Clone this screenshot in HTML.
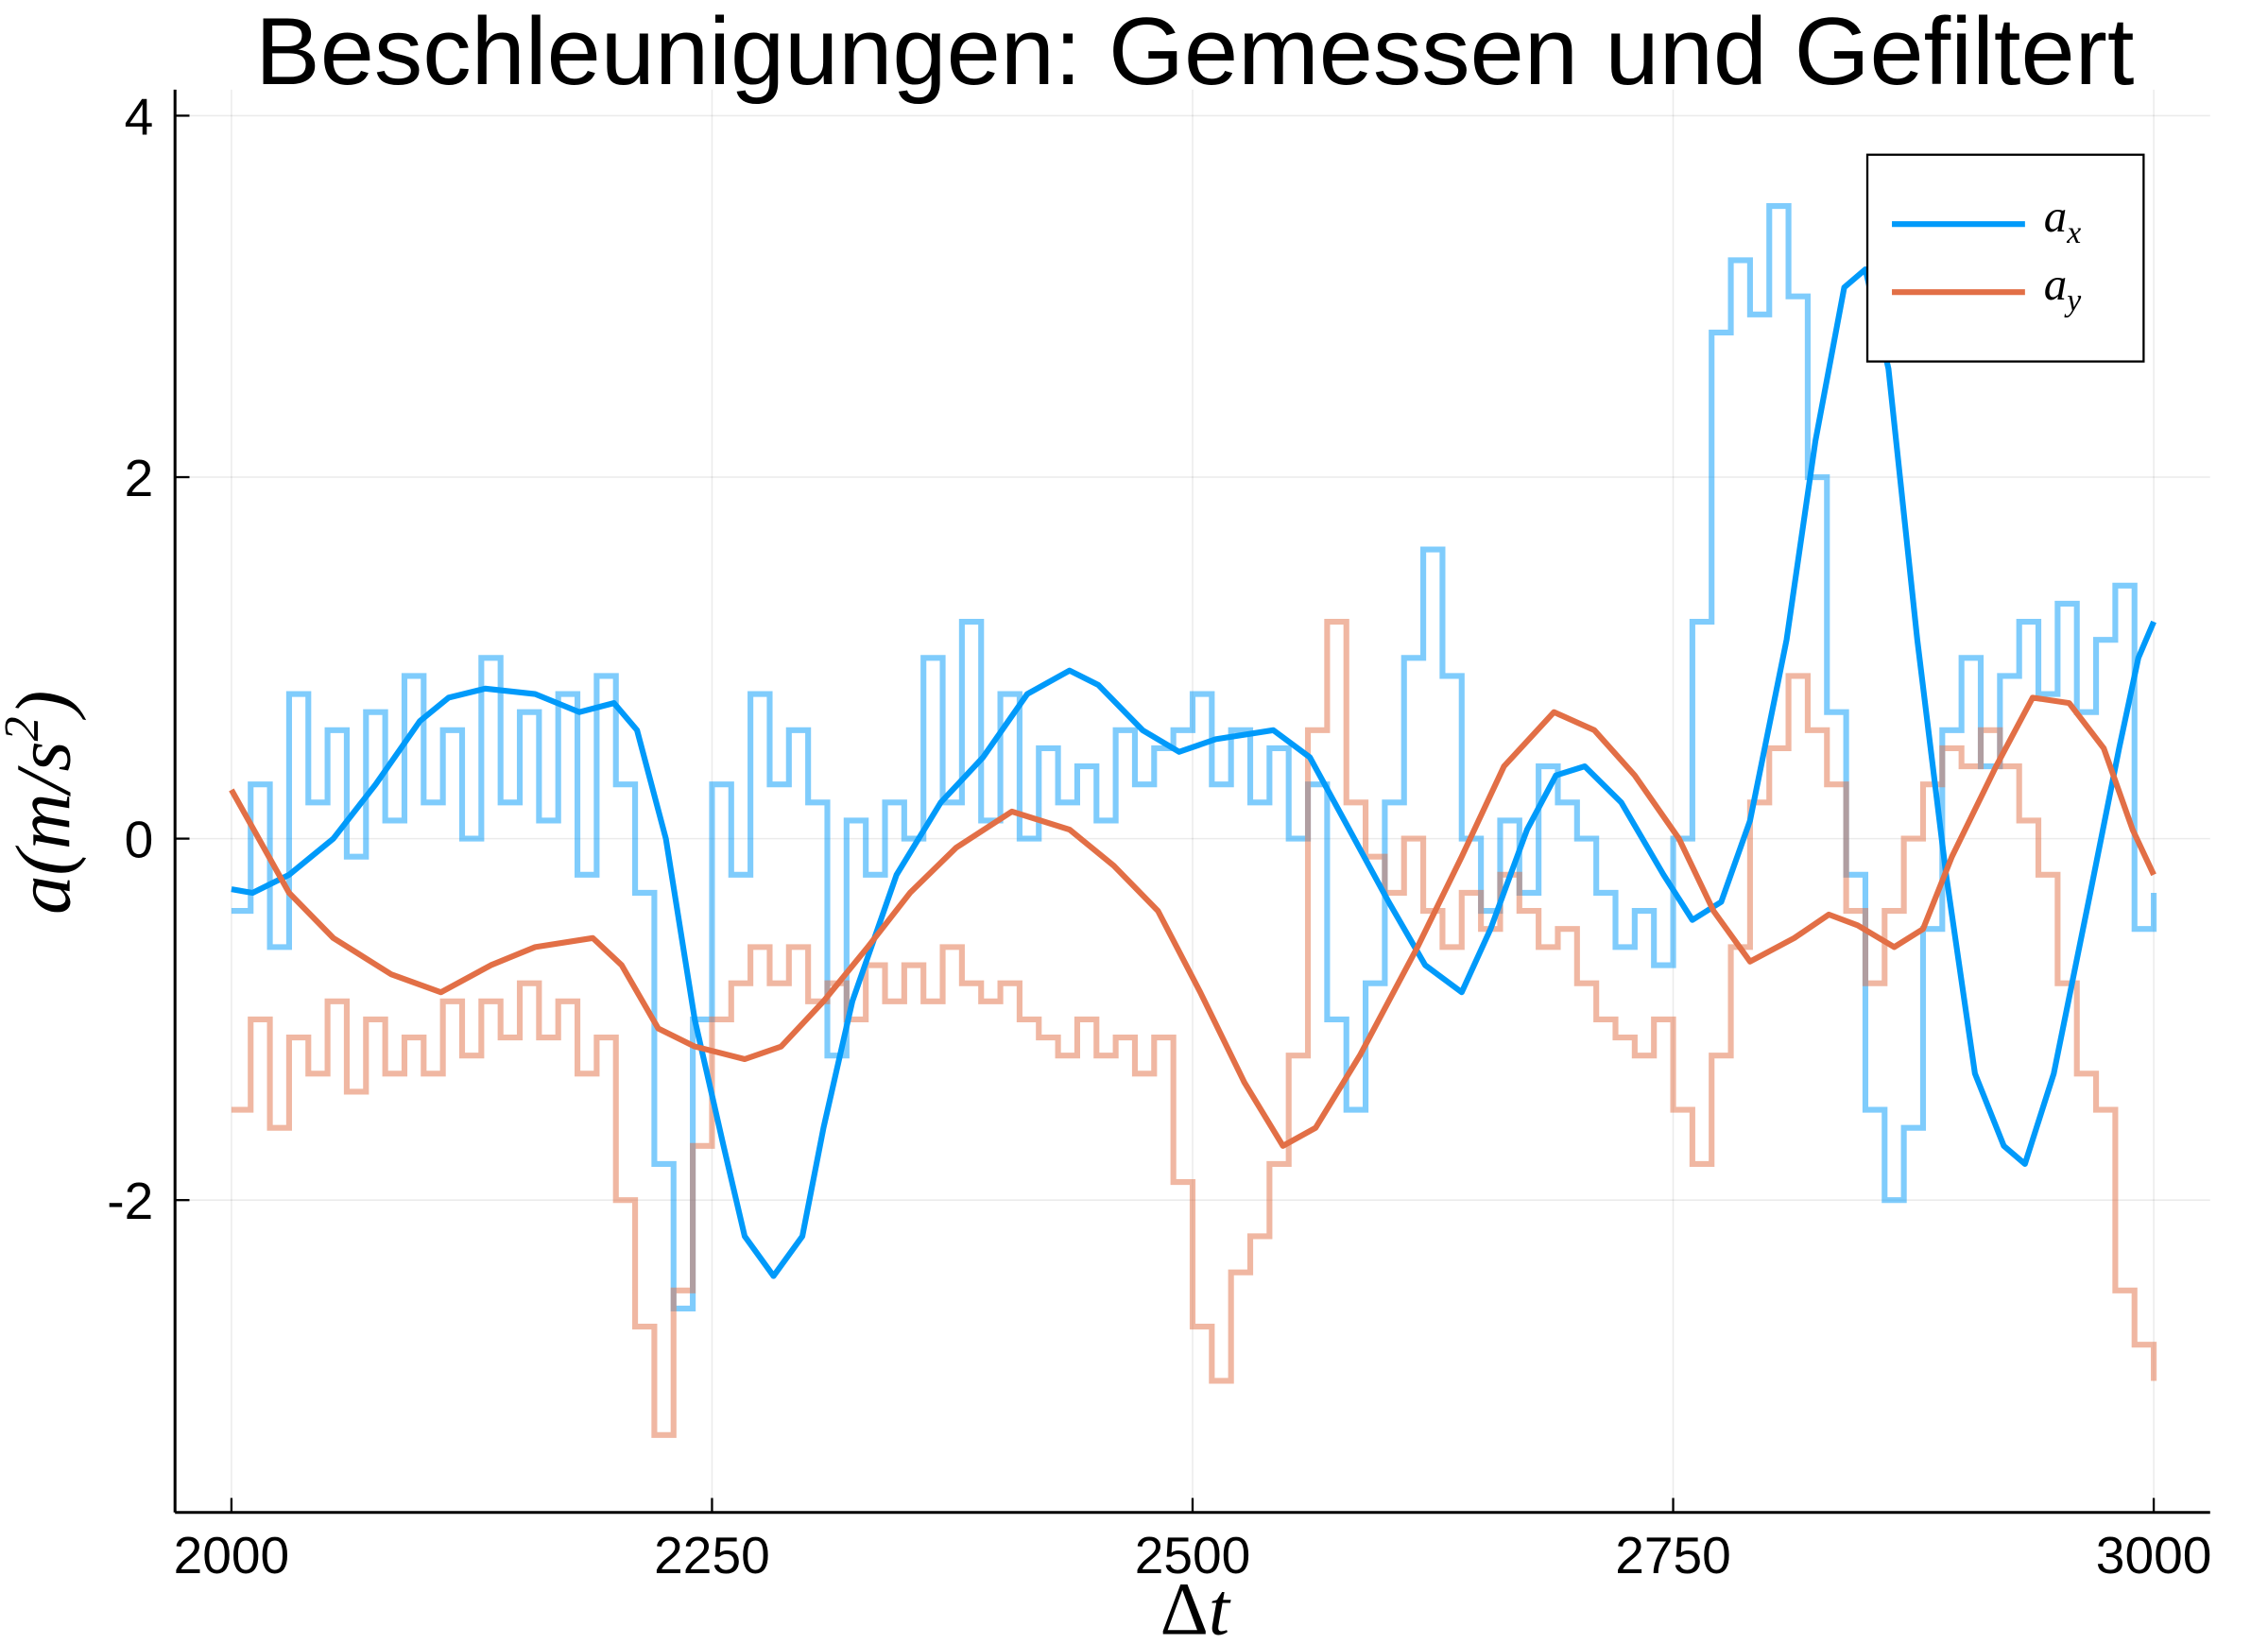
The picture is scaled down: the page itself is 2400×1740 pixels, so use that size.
<!DOCTYPE html>
<html><head><meta charset="utf-8"><style>
html,body{margin:0;padding:0;background:#fff;}
svg{display:block;}
text{font-family:"Liberation Sans",sans-serif;}
.m{font-family:"Liberation Serif",serif;font-style:italic;}
</style></head><body>
<svg id="chart" width="2400" height="1740" viewBox="0 0 1568 1137" preserveAspectRatio="none" xmlns="http://www.w3.org/2000/svg">
<rect x="0" y="0" width="1568" height="1137" fill="#fff"/>
<g id="grid"></g>
<g id="series"></g>
<line x1="121" y1="62" x2="121" y2="1046" stroke="#000" stroke-width="2"/>
<line x1="121" y1="1046" x2="1528" y2="1046" stroke="#000" stroke-width="2"/>
<g id="ticks"></g>
<text x="826" y="58" font-size="66" text-anchor="middle" textLength="1299" lengthAdjust="spacingAndGlyphs">Beschleunigungen: Gemessen und Gefiltert</text>
<text class="m" x="826" y="1130" font-size="52" text-anchor="middle"><tspan font-style="normal">Δ</tspan>t</text>
<text class="m" transform="translate(48,555) rotate(-90)" font-size="54" text-anchor="middle">a(m/s<tspan font-size="34" dy="-22">2</tspan><tspan dy="22">)</tspan></text>
<g>
<rect x="1291" y="107" width="191" height="143" fill="#fff" stroke="#000" stroke-width="1.5"/>
<line x1="1308" y1="155" x2="1400" y2="155" stroke="#009AFA" stroke-width="4"/>
<text class="m" x="1413" y="160" font-size="32">a<tspan font-size="22" dy="8">x</tspan></text>
<line x1="1308" y1="202" x2="1400" y2="202" stroke="#E26F46" stroke-width="4"/>
<text class="m" x="1413" y="207" font-size="32">a<tspan font-size="22" dy="8">y</tspan></text>
</g>
</svg>
<script>
const rawT = Array.from({length:101},(_,i)=>2000+i*10);
const rawAx = [-0.4,0.3,-0.6,0.8,0.2,0.6,-0.1,0.7,0.1,0.9,0.2,0.6,0.0,1.0,0.2,0.7,0.1,0.8,-0.2,0.9,0.3,-0.3,-1.8,-2.6,-1.0,0.3,-0.2,0.8,0.3,0.6,0.2,-1.2,0.1,-0.2,0.2,0.0,1.0,0.2,1.2,0.1,0.8,0.0,0.5,0.2,0.4,0.1,0.6,0.3,0.5,0.6,0.8,0.3,0.6,0.2,0.5,0.0,0.3,-1.0,-1.5,-0.8,0.2,1.0,1.6,0.9,0.0,-0.4,0.1,-0.3,0.4,0.2,0.0,-0.3,-0.6,-0.4,-0.7,0.0,1.2,2.8,3.2,2.9,3.5,3.0,2.0,0.7,-0.2,-1.5,-2.0,-1.6,-0.5,0.6,1.0,0.4,0.9,1.2,0.8,1.3,0.7,1.1,1.4,-0.5,-0.3];
const rawAy = [-1.5,-1.0,-1.6,-1.1,-1.3,-0.9,-1.4,-1.0,-1.3,-1.1,-1.3,-0.9,-1.2,-0.9,-1.1,-0.8,-1.1,-0.9,-1.3,-1.1,-2.0,-2.7,-3.3,-2.5,-1.7,-1.0,-0.8,-0.6,-0.8,-0.6,-0.9,-0.8,-1.0,-0.7,-0.9,-0.7,-0.9,-0.6,-0.8,-0.9,-0.8,-1.0,-1.1,-1.2,-1.0,-1.2,-1.1,-1.3,-1.1,-1.9,-2.7,-3.0,-2.4,-2.2,-1.8,-1.2,0.6,1.2,0.2,-0.1,-0.3,0.0,-0.4,-0.6,-0.3,-0.5,-0.2,-0.4,-0.6,-0.5,-0.8,-1.0,-1.1,-1.2,-1.0,-1.5,-1.8,-1.2,-0.6,0.2,0.5,0.9,0.6,0.3,-0.4,-0.8,-0.4,0.0,0.3,0.5,0.4,0.6,0.4,0.1,-0.2,-0.8,-1.3,-1.5,-2.5,-2.8,-3.0];
const fAxT = [2000,2011,2030,2053,2075,2098,2113,2132,2158,2181,2199,2211,2226,2241,2256,2267,2282,2297,2308,2323,2346,2369,2391,2414,2436,2451,2474,2493,2512,2542,2561,2579,2602,2621,2640,2655,2674,2689,2704,2723,2745,2760,2775,2790,2809,2824,2839,2850,2862,2877,2892,2907,2922,2933,2948,2967,2982,2992,3000];
const fAx = [-0.28,-0.3,-0.2,0.0,0.3,0.65,0.78,0.83,0.8,0.7,0.75,0.6,0.0,-1.0,-1.7,-2.2,-2.42,-2.2,-1.6,-0.9,-0.2,0.2,0.45,0.8,0.93,0.85,0.6,0.48,0.55,0.6,0.45,0.1,-0.35,-0.7,-0.85,-0.5,0.05,0.35,0.4,0.2,-0.2,-0.45,-0.35,0.1,1.1,2.2,3.05,3.15,2.6,1.1,-0.2,-1.3,-1.7,-1.8,-1.3,-0.3,0.5,1.0,1.2];
const fAyT = [2000,2030,2053,2083,2109,2135,2158,2188,2203,2222,2241,2267,2286,2308,2331,2353,2377,2406,2436,2459,2482,2504,2527,2547,2564,2587,2617,2640,2662,2688,2709,2730,2753,2771,2790,2813,2831,2846,2865,2880,2895,2918,2937,2956,2974,2989,3000];
const fAy = [0.27,-0.3,-0.55,-0.75,-0.85,-0.7,-0.6,-0.55,-0.7,-1.05,-1.15,-1.22,-1.15,-0.9,-0.6,-0.3,-0.05,0.15,0.05,-0.15,-0.4,-0.85,-1.35,-1.7,-1.6,-1.2,-0.6,-0.1,0.4,0.7,0.6,0.35,0.0,-0.4,-0.68,-0.55,-0.42,-0.48,-0.6,-0.5,-0.1,0.4,0.78,0.75,0.5,0.05,-0.2];
const xTicks = [2000,2250,2500,2750,3000];
const yTicks = [4,2,0,-2];
const yTickLabels = ["4","2","0","-2"];

const NS="http://www.w3.org/2000/svg";
const X = t => 160 + (t-2000)*1.329;
const Y = v => 580 - v*125;
const grid=document.getElementById('grid'), ticks=document.getElementById('ticks'), ser=document.getElementById('series');
function mk(tag,attrs,parent){const e=document.createElementNS(NS,tag);for(const k in attrs)e.setAttribute(k,attrs[k]);parent.appendChild(e);return e;}
xTicks.forEach(t=>{
  const g=mk('line',{x1:X(t),x2:X(t),y1:62,y2:1046,stroke:'#000','stroke-opacity':0.08,'stroke-width':1},grid);
  
  
  const tk=mk('line',{x1:X(t),x2:X(t),y1:1046,y2:1036,stroke:'#000','stroke-width':1.5},ticks);
  
  
  const lb=mk('text',{x:X(t),y:1088,'font-size':36,'text-anchor':'middle'},ticks);
  lb.textContent=t;
  
  
});
yTicks.forEach((v,i)=>{
  const g=mk('line',{x1:121,x2:1528,y1:Y(v),y2:Y(v),stroke:'#000','stroke-opacity':0.08,'stroke-width':1},grid);
  
  
  const tk=mk('line',{x1:121,x2:131,y1:Y(v),y2:Y(v),stroke:'#000','stroke-width':1.5},ticks);
  
  
  const lb=mk('text',{x:106,y:Y(v)+13,'font-size':36,'text-anchor':'end'},ticks);
  lb.textContent=yTickLabels[i];
  
  
});
function stepPts(ts,vs){let p=[];for(let i=0;i<ts.length;i++){if(i>0)p.push(X(ts[i])+','+Y(vs[i-1]));p.push(X(ts[i])+','+Y(vs[i]));}return p.join(' ');}
function pts(ts,vs){return ts.map((t,i)=>X(t)+','+Y(vs[i])).join(' ');}
const r1=mk('polyline',{points:stepPts(rawT,rawAx),fill:'none',stroke:'#009AFA','stroke-opacity':0.5,'stroke-width':4},ser);


const r2=mk('polyline',{points:stepPts(rawT,rawAy),fill:'none',stroke:'#E26F46','stroke-opacity':0.5,'stroke-width':4},ser);


const f1=mk('polyline',{points:pts(fAxT,fAx),fill:'none',stroke:'#009AFA','stroke-width':4,'stroke-linejoin':'round'},ser);


const f2=mk('polyline',{points:pts(fAyT,fAy),fill:'none',stroke:'#E26F46','stroke-width':4,'stroke-linejoin':'round'},ser);


</script>
</body></html>
